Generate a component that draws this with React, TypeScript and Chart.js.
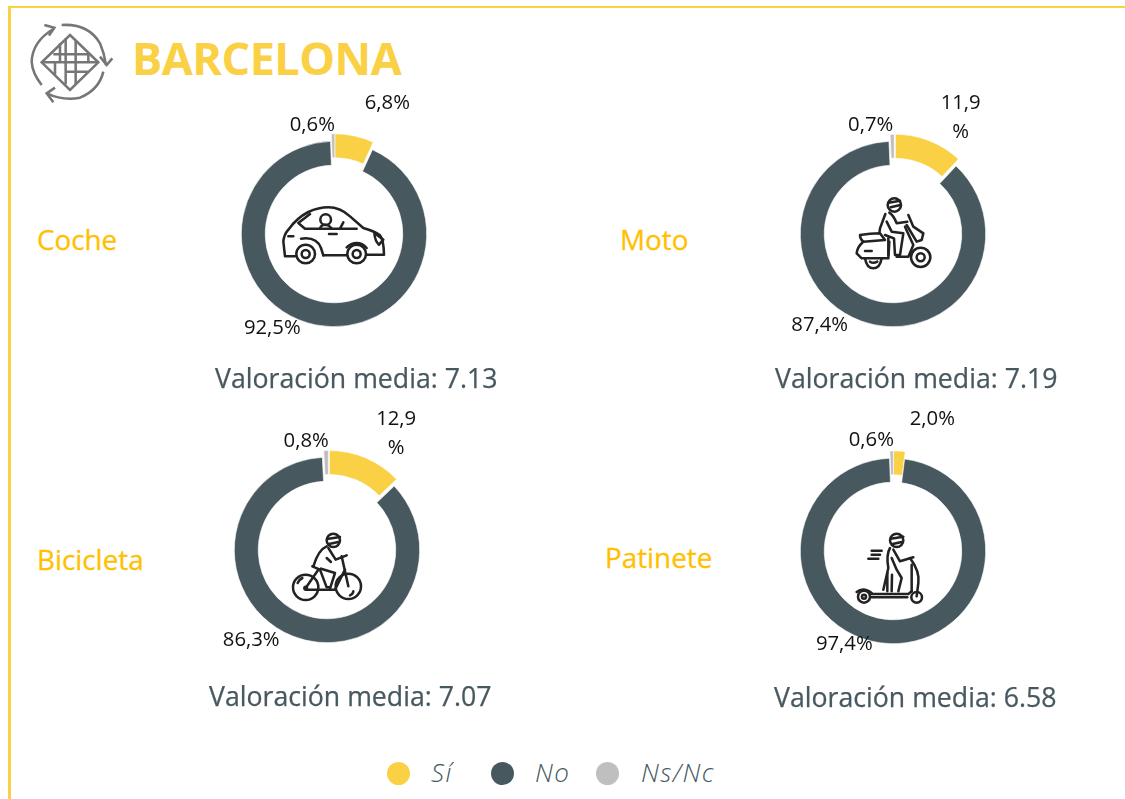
import React, { useEffect, useRef } from "react";
import { Chart, registerables } from "chart.js";

Chart.register(...registerables);

// ---------- data ----------
const responseLabels = ["Sí", "No", "Ns/Nc"];
const cocheValues = [6.8, 92.5, 0.6];
const motoValues = [11.9, 87.4, 0.7];
const bicicletaValues = [12.9, 86.3, 0.8];
const patineteValues = [2.0, 97.4, 0.6];
const vehicleNames = ["Coche", "Moto", "Bicicleta", "Patinete"];
const meanScores = ["7.13", "7.19", "7.07", "6.58"];
const pageTitle = "BARCELONA";

// ---------- styles ----------
const YELLOW = "#FAD044";
const SLATE = "#47585F";
const GREY = "#BFBFBF";
const ORANGE = "#FFC000";
const FONT = '"Open Sans", sans-serif';
const sliceColors = [YELLOW, SLATE, GREY];

type Panel = {
  values: number[];
  name: string;
  score: string;
  cx: number;
  cy: number;
  nameX: number;
  nameY: number;
  scoreX: number;
  scoreY: number;
  shift: number[][];
  labelPos: number[][];
  wrap: boolean;
};

const panels: Panel[] = [
  {
    values: cocheValues, name: vehicleNames[0], score: meanScores[0],
    cx: 333.7, cy: 233.8, nameX: 37, nameY: 239.5, scoreX: 215, scoreY: 377.5,
    shift: [[0.8, -7.5], null as any, [0.8, -7.5]],
    labelPos: [[387, 103], [272, 328], [312, 125]], wrap: false,
  },
  {
    values: motoValues, name: vehicleNames[1], score: meanScores[1],
    cx: 893.3, cy: 234.2, nameX: 620, nameY: 239.5, scoreX: 775, scoreY: 377.5,
    shift: [[2.4, -7], null as any, [1.2, -7]],
    labelPos: [[961, 103], [820, 325], [871, 125]], wrap: true,
  },
  {
    values: bicicletaValues, name: vehicleNames[2], score: meanScores[2],
    cx: 326.8, cy: 549.8, nameX: 37, nameY: 559.5, scoreX: 209, scoreY: 695.5,
    shift: [[2.4, -6.8], null as any, [1.4, -6.8]],
    labelPos: [[396, 419], [251, 640], [306, 441]], wrap: true,
  },
  {
    values: patineteValues, name: vehicleNames[3], score: meanScores[3],
    cx: 892.7, cy: 551.4, nameX: 605, nameY: 557.5, scoreX: 774, scoreY: 696.5,
    shift: [[0.6, -7.4], null as any, [0.4, -7.4]],
    labelPos: [[932, 420], [844, 645], [871, 441]], wrap: false,
  },
];

const CANVAS = 320;

const formatPct = (v: number) => v.toFixed(1).replace(".", ",") + "%";

function Donut({ panel }: { panel: Panel }) {
  const ref = useRef<HTMLCanvasElement>(null);
  useEffect(() => {
    if (!ref.current) return;
    const explode = {
      id: "explode",
      afterDatasetsUpdate(chart: any) {
        const meta = chart.getDatasetMeta(0);
        panel.shift.forEach((s, i) => {
          if (!s) return;
          meta.data[i].x += s[0];
          meta.data[i].y += s[1];
        });
      },
    };
    const pctLabels = {
      id: "pctLabels",
      afterDraw(chart: any) {
        const c = chart.ctx;
        c.save();
        c.font = `20.3px ${FONT}`;
        c.fillStyle = "#111111";
        c.textAlign = "center";
        c.textBaseline = "middle";
        const ox = panel.cx - CANVAS / 2;
        const oy = panel.cy - CANVAS / 2;
        panel.values.forEach((v, i) => {
          const [x, y] = panel.labelPos[i];
          const txt = formatPct(v);
          if (panel.wrap && i === 0) {
            c.fillText(txt.slice(0, -1), x - ox, y - oy);
            c.fillText("%", x - ox, y - oy + 29);
          } else {
            c.fillText(txt, x - ox, y - oy);
          }
        });
        c.restore();
      },
    };
    const chart = new Chart(ref.current, {
      type: "doughnut",
      data: {
        labels: responseLabels,
        datasets: [
          {
            data: panel.values,
            backgroundColor: sliceColors,
            borderColor: "#ffffff",
            borderWidth: 0.6,
          },
        ],
      },
      options: {
        responsive: false,
        animation: false,
        devicePixelRatio: 1,
        radius: 92.7,
        cutout: "74.2%",
        rotation: 0,
        layout: { padding: 0 },
        plugins: { legend: { display: false }, tooltip: { enabled: false } },
      } as any,
      plugins: [explode, pctLabels],
    });
    return () => chart.destroy();
  }, [panel]);
  return (
    <canvas
      ref={ref}
      width={CANVAS}
      height={CANVAS}
      style={{
        position: "absolute",
        left: panel.cx - CANVAS / 2,
        top: panel.cy - CANVAS / 2,
        width: CANVAS,
        height: CANVAS,
      }}
    />
  );
}

// Decorative pictograms, traced in 3x units and placed with a translate + scale.
function Icons() {
  const s = {
    fill: "none",
    stroke: "#222222",
    strokeWidth: 7.6,
    strokeLinecap: "round" as const,
    strokeLinejoin: "round" as const,
  };
  const third = (x: number, y: number) => `translate(${x} ${y}) scale(0.33333)`;
  return (
    <svg
      width={1125}
      height={799}
      style={{ position: "absolute", left: 0, top: 0, filter: "blur(0.55px)" }}
    >
      {/* logo */}
      <g transform={third(25, 15)} fill="none" stroke="#767676" strokeWidth={7.6}>
        <path d="M50 210 Q22 175 20 140 Q22 80 85 42" />
        <path d="M58 30 L88 38 L72 62" />
        <path d="M110 30 Q190 25 225 85 Q238 115 243 150" />
        <path d="M225 125 L245 150 L262 130" />
        <path d="M235 170 Q222 225 165 248 Q115 258 65 235" />
        <path d="M90 218 L65 235 L85 262" />
        <path d="M135 60 L220 142 L135 225 L50 142 Z" />
        <path d="M105 85 V142 M122 70 V208 M152 78 V142 M190 115 V142 M50 142 H220 M85 118 H190 M90 142 V180 M152 142 V208 M122 170 H190" />
      </g>

      {/* coche */}
      <g transform={third(275, 198)} {...s}>
        <path d="M60 175 H30 L25 130 Q27 110 40 95 Q65 60 100 42 Q130 28 160 28 Q195 28 225 55 L265 90 Q300 100 315 112 Q326 125 327 170 H275" />
        <path d="M145 172 H215" />
        <circle cx="92" cy="168" r="28" />
        <circle cx="92" cy="168" r="12" />
        <circle cx="245" cy="168" r="28" />
        <circle cx="245" cy="168" r="12" />
        <path d="M78 122 Q125 115 138 150 L145 172" />
        <path d="M215 148 Q228 135 245 135 Q262 135 275 150" />
        <path d="M105 48 L70 75 L90 92 H245" />
        <circle cx="152" cy="65" r="16" />
        <path d="M135 92 Q138 80 150 80 Q162 80 170 92" />
        <path d="M205 73 L195 92" />
        <path d="M40 115 H55 M162 108 H185" />
        <path d="M298 105 L325 125 L312 140 Q300 130 298 105" />
      </g>

      {/* moto */}
      <g transform={third(850, 190)} {...s}>
        <circle cx="133" cy="45" r="20" />
        <path d="M116 38 L150 32 M122 52 L148 46" />
        <path d="M106 72 L90 115 L88 130" />
        <path d="M118 68 Q130 75 140 100 L172 95" />
        <path d="M110 95 L125 125 L160 130 L150 195 H135 L132 145 L105 135" />
        <path d="M115 145 V195" />
        <path d="M175 75 L190 110 L220 130 L215 150 L200 155 L170 105" />
        <path d="M165 110 L190 165 L175 200 H140" />
        <path d="M30 135 Q60 130 90 130 L105 150 L40 155 Q30 148 30 135 Z" />
        <path d="M40 155 Q22 170 20 190 L35 205 H115 L118 155" />
        <path d="M45 183 H65" />
        <path d="M45 205 Q50 235 70 235 Q90 235 95 205" />
        <path d="M60 215 Q70 222 82 215" />
        <circle cx="212" cy="202" r="29" />
        <circle cx="212" cy="202" r="12" />
      </g>

      {/* bicicleta */}
      <g transform={third(285, 528)} {...s}>
        <circle cx="145" cy="37" r="20" />
        <path d="M126 33 L165 27 M132 48 L160 42" />
        <path d="M125 55 Q100 65 85 115" />
        <path d="M130 60 L152 95 L185 82" />
        <path d="M125 90 L138 102 M82 115 L105 125 L125 178 H135" />
        <path d="M108 122 L150 135 L135 182" />
        <path d="M170 85 L190 175" />
        <path d="M62 180 L100 125 M62 185 H150 L180 125" />
        <circle cx="62" cy="178" r="38" />
        <circle cx="190" cy="175" r="38" />
        <circle cx="62" cy="180" r="4" />
        <path d="M38 165 Q42 155 52 150 M205 190 Q204 198 195 202" />
      </g>

      {/* patinete */}
      <g transform={third(850, 528)} {...s}>
        <circle cx="140" cy="37" r="20" />
        <path d="M122 32 L160 26 M128 48 L155 42" />
        <path d="M65 68 H95 M65 80 H90 M55 92 H85" />
        <path d="M120 60 Q108 80 115 120 L100 185" />
        <path d="M130 65 L150 100 L190 88" />
        <path d="M125 90 L140 125 L155 150 L145 190" />
        <path d="M112 135 L112 190 M126 140 L125 190" />
        <path d="M180 90 Q210 130 205 165 L200 205" />
        <path d="M185 110 L185 190" />
        <path d="M65 198 H175 L185 190 M62 208 H172" />
        <path d="M20 192 Q40 176 65 195" />
        <circle cx="42" cy="206" r="18" />
        <circle cx="42" cy="206" r="6" />
        <circle cx="200" cy="208" r="16" />
      </g>
    </svg>
  );
}

const text = (over: React.CSSProperties): React.CSSProperties => ({
  position: "absolute",
  whiteSpace: "nowrap",
  fontFamily: FONT,
  lineHeight: 1,
  ...over,
});

export default function App() {
  const legendX = [[398, 431], [502, 535], [607, 641]];
  return (
    <div
      style={{
        position: "fixed",
        left: 0,
        top: 0,
        width: 1125,
        height: 799,
        overflow: "hidden",
        background: "#ffffff",
      }}
    >
      <div style={{ position: "absolute", left: 8, top: 6, right: 0, height: 2.4, background: YELLOW }} />
      <div style={{ position: "absolute", left: 8, top: 6, bottom: 0, width: 2.6, background: YELLOW }} />

      <Icons />

      <div style={text({ left: 132, top: 57, transform: "translateY(-50%)", fontSize: 45, fontWeight: 700, color: YELLOW, letterSpacing: -0.5 })}>
        {pageTitle}
      </div>

      {panels.map((p) => (
        <React.Fragment key={p.name}>
          <Donut panel={p} />
          <div style={text({ left: p.nameX, top: p.nameY, transform: "translateY(-50%)", fontSize: 27.8, color: ORANGE, fontWeight: 500, WebkitTextStroke: "0.3px " + ORANGE })}>
            {p.name}
          </div>
          <div style={text({ left: p.scoreX, top: p.scoreY, transform: "translateY(-50%)", fontSize: 26.7, color: SLATE, fontWeight: 500, WebkitTextStroke: "0.25px " + SLATE })}>
            Valoración media: {p.score}
          </div>
        </React.Fragment>
      ))}

      {responseLabels.map((label, i) => (
        <React.Fragment key={label}>
          <div
            style={{
              position: "absolute",
              left: legendX[i][0] - 11.5,
              top: 773 - 11.5,
              width: 23,
              height: 23,
              borderRadius: "50%",
              background: sliceColors[i],
            }}
          />
          <div style={text({ left: legendX[i][1], top: 772, transform: "translateY(-50%)", fontSize: 26, fontStyle: "italic", fontWeight: 300, letterSpacing: 1.4, color: SLATE })}>
            {label}
          </div>
        </React.Fragment>
      ))}
    </div>
  );
}
